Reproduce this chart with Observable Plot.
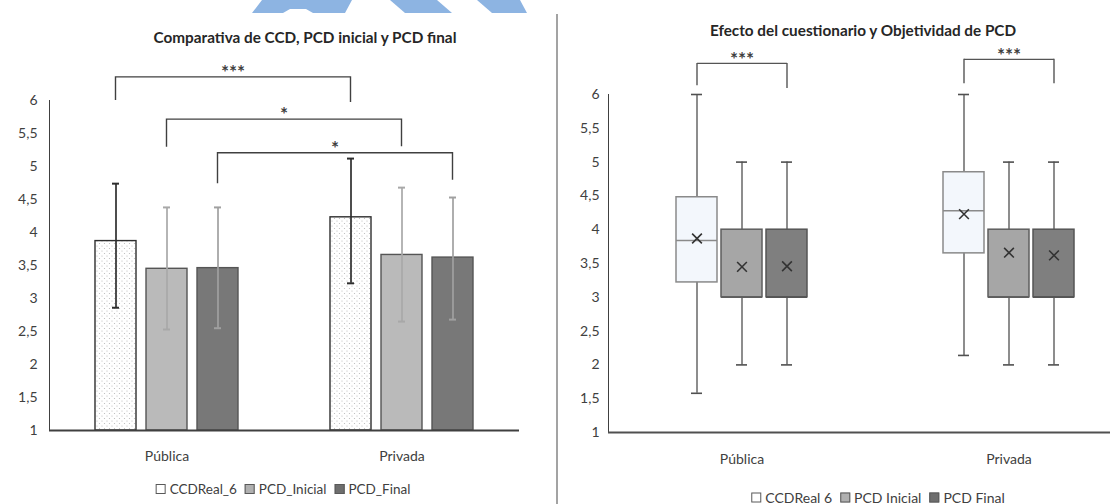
<!DOCTYPE html>
<html>
<head>
<meta charset="utf-8">
<script src="https://cdn.jsdelivr.net/npm/d3@7"></script>
<script src="https://cdn.jsdelivr.net/npm/@observablehq/plot@0.6"></script>
<style>
  html, body { margin: 0; padding: 0; background: #fff; }
  body { width: 1110px; height: 504px; overflow: hidden; position: relative; font-family: Lato, "Open Sans", sans-serif; }
  .abs { position: absolute; }
  .title { font-weight: bold; font-size: 15.3px; color: #262626; white-space: nowrap; transform: translate(-50%, -50%); }
  .legend { font-size: 13.5px; color: #404040; white-space: nowrap; transform: translate(-50%, -50%); display: flex; align-items: center; }
  .legend .item { display: flex; align-items: center; margin: 0 4px; }
  .legend .sw { width: 10px; height: 10px; border: 1px solid #595959; margin-right: 4px; box-sizing: border-box; }
  svg.plot { max-width: none !important; }
</style>
</head>
<body>
<svg width="0" height="0" style="position:absolute">
  <defs>
    <pattern id="dots" width="5" height="5" patternUnits="userSpaceOnUse">
      <rect width="5" height="5" fill="#ffffff"></rect>
      <circle cx="1" cy="1" r="0.6" fill="#b8b8b8"></circle>
      <circle cx="3.5" cy="3.5" r="0.6" fill="#b8b8b8"></circle>
    </pattern>
  </defs>
</svg>
<!-- decorative watermark strip at the top -->
<svg class="abs" style="left:0;top:0" width="1110" height="14">
  <g fill="#8db4e2">
    <polygon points="262,0 352,0 345,13 313,13 306,9 290,9 283,13 252,13"></polygon>
    <polygon points="390,0 437,0 452,13 405,13"></polygon>
    <polygon points="477,0 520,0 527,13 492,13"></polygon>
  </g>
</svg>
<div class="abs" style="left:556px;top:14px;width:1.5px;height:490px;background:#a3a3a3"></div>

<div id="leftTitle" class="abs title" style="left:305px;top:37px"></div>
<div id="leftPlot" class="abs" style="left:0;top:0"></div>
<div id="leftLegend" class="abs legend" style="left:283px;top:489px"></div>

<div id="rightTitle" class="abs title" style="left:863px;top:30px"></div>
<div id="rightPlot" class="abs" style="left:557px;top:0;width:553px;height:504px;overflow:hidden"></div>
<div id="rightLegend" class="abs legend" style="left:878px;top:497px;font-size:14px"></div>

<script>
// ---------------- data ----------------
const groups = ["Pública", "Privada"];
const series = ["CCDReal_6", "PCD_Inicial", "PCD_Final"];
const yTicks = [1, 1.5, 2, 2.5, 3, 3.5, 4, 4.5, 5, 5.5, 6];

const leftTitle = "Comparativa de CCD, PCD inicial y PCD final";
const rightTitle = "Efecto del cuestionario y Objetividad de PCD";

// Left chart: means and error-bar ends (series order)
const meanPublica = [3.87, 3.45, 3.46];
const meanPrivada = [4.23, 3.66, 3.62];
const errLowPublica = [2.86, 2.53, 2.55];
const errHighPublica = [4.74, 4.38, 4.38];
const errLowPrivada = [3.23, 2.65, 2.68];
const errHighPrivada = [5.12, 4.68, 4.53];

// Left chart significance brackets (Pública vs Privada, same series)
const barBrackets = [
  {series: "CCDReal_6", top: 6.35, legFrom: 6.0, legTo: 5.97, label: "***"},
  {series: "PCD_Inicial", top: 5.71, legFrom: 5.29, legTo: 5.30, label: "*"},
  {series: "PCD_Final", top: 5.20, legFrom: 4.74, legTo: 4.79, label: "*"}
];

// Right chart: box plot statistics (series order)
const minPublica = [1.58, 2, 2];
const q1Publica = [3.22, 3, 3];
const medianPublica = [3.84, 3, 3];
const q3Publica = [4.48, 4, 4];
const maxPublica = [6, 5, 5];
const avgPublica = [3.87, 3.45, 3.46];

const minPrivada = [2.14, 2, 2];
const q1Privada = [3.65, 3, 3];
const medianPrivada = [4.28, 3, 3];
const q3Privada = [4.85, 4, 4];
const maxPrivada = [6, 5, 5];
const avgPrivada = [4.23, 3.66, 3.62];

// Right chart brackets (CCDReal_6 vs PCD_Final within each group)
const boxBrackets = [
  {group: "Pública", from: "CCDReal_6", mid: "PCD_Inicial", to: "PCD_Final", top: 6.46, legFrom: 6.13, legTo: 6.09, label: "***"},
  {group: "Privada", from: "CCDReal_6", mid: "PCD_Inicial", to: "PCD_Final", top: 6.52, legFrom: 6.16, legTo: 6.16, label: "***"}
];

// ---------------- styles ----------------
const ink = "#404040";
const barFills = ["url(#dots)", "#bababa", "#787878"];
const errColors = ["#2e2e2e", "#a8a8a8", "#a0a0a0"];
const boxFills = ["#f3f7fc", "#a6a6a6", "#7f7f7f"];
const boxStrokes = ["#8a8a8a", "#5e5e5e", "#555555"];
const legendFills = ["#ffffff", "#b0b0b0", "#6e6e6e"];
const fmt = d => String(d).replace(".", ",");

// ---------------- tables ----------------
const barRows = [];
groups.forEach((g, gi) => series.forEach((s, si) => barRows.push({
  group: g, series: s, si,
  mean: gi === 0 ? meanPublica[si] : meanPrivada[si],
  low: gi === 0 ? errLowPublica[si] : errLowPrivada[si],
  high: gi === 0 ? errHighPublica[si] : errHighPrivada[si]
})));

const boxRows = [];
groups.forEach((g, gi) => series.forEach((s, si) => boxRows.push({
  group: g, series: s, si,
  min: (gi === 0 ? minPublica : minPrivada)[si],
  q1: (gi === 0 ? q1Publica : q1Privada)[si],
  median: (gi === 0 ? medianPublica : medianPrivada)[si],
  q3: (gi === 0 ? q3Publica : q3Privada)[si],
  max: (gi === 0 ? maxPublica : maxPrivada)[si],
  avg: (gi === 0 ? avgPublica : avgPrivada)[si]
})));

// Cross-facet brackets: drawn once, positioned with the plot's own fx / x / y scales
function crossBrackets(data) {
  let calls = 0;
  return (index, scales) => {
    if (calls++ > 0) return null;
    const {fx, x, y} = scales;
    const half = x.bandwidth ? x.bandwidth() / 2 : 0;
    const origin = fx(groups[0]);
    const px = (g, s) => fx(g) - origin + x(s) + half;
    const g = d3.create("svg:g");
    for (const b of data) {
      const x1 = px(groups[0], b.series), x2 = px(groups[1], b.series);
      g.append("path")
        .attr("fill", "none").attr("stroke", ink).attr("stroke-width", 1.4)
        .attr("d", `M${x1},${y(b.legFrom)}V${y(b.top)}H${x2}V${y(b.legTo)}`);
      g.append("text")
        .attr("x", (x1 + x2) / 2).attr("y", y(b.top) + 2)
        .attr("text-anchor", "middle").attr("fill", ink)
        .attr("font-size", 19).attr("font-weight", "bold").text(b.label);
    }
    return g.node();
  };
}

// ---------------- left chart ----------------
const left = Plot.plot({
  width: 556, height: 472,
  marginLeft: 48, marginRight: 37, marginTop: 100, marginBottom: 42,
  style: {fontFamily: "Lato, 'Open Sans', sans-serif", fontSize: "14px", color: ink, background: "transparent", overflow: "visible"},
  fx: {domain: groups, padding: 0, label: null, axis: "bottom", tickSize: 0, tickPadding: 21},
  x: {domain: series, paddingInner: 0.19, paddingOuter: 0.86, axis: null},
  y: {domain: [1, 6], ticks: yTicks, tickFormat: fmt, tickSize: 0, tickPadding: 12, label: null, line: true},
  color: {domain: series, range: barFills},
  marks: [
    Plot.barY(barRows, {fx: "group", x: "series", y1: yTicks[0], y2: "mean", fill: "series",
      stroke: d => d.si === 0 ? "#2e2e2e" : "#555555", strokeWidth: 1.4}),
    Plot.ruleX(barRows, {fx: "group", x: "series", y1: "low", y2: "high", stroke: d => errColors[d.si], strokeWidth: 1.7}),
    Plot.tickY(barRows, {fx: "group", x: "series", y: "low", stroke: d => errColors[d.si], strokeWidth: 2, insetLeft: 17, insetRight: 17}),
    Plot.tickY(barRows, {fx: "group", x: "series", y: "high", stroke: d => errColors[d.si], strokeWidth: 2, insetLeft: 17, insetRight: 17}),
    Plot.ruleY([yTicks[0]], {stroke: ink, strokeWidth: 2}),
    crossBrackets(barBrackets)
  ]
});
left.style.maxWidth = "none";
document.getElementById("leftPlot").append(left);

// ---------------- right chart ----------------
const right = Plot.plot({
  width: 600, height: 474,
  marginLeft: 51, marginRight: 15, marginTop: 94, marginBottom: 42,
  style: {fontFamily: "Lato, 'Open Sans', sans-serif", fontSize: "14px", color: ink, background: "transparent", overflow: "visible"},
  fx: {domain: groups, padding: 0, label: null, axis: "bottom", tickSize: 0, tickPadding: 22},
  x: {domain: series, paddingInner: 0.1, paddingOuter: 1.48, axis: null},
  y: {domain: [1, 6], ticks: yTicks, tickFormat: fmt, tickSize: 0, tickPadding: 9, label: null, line: true},
  marks: [
    Plot.ruleX(boxRows, {fx: "group", x: "series", y1: "min", y2: "max", stroke: "#505050", strokeWidth: 1.3}),
    Plot.tickY(boxRows, {fx: "group", x: "series", y: "min", stroke: "#505050", strokeWidth: 1.6, insetLeft: 15, insetRight: 15}),
    Plot.tickY(boxRows, {fx: "group", x: "series", y: "max", stroke: "#505050", strokeWidth: 1.6, insetLeft: 15, insetRight: 15}),
    Plot.barY(boxRows, {fx: "group", x: "series", y1: "q1", y2: "q3", fill: d => boxFills[d.si], stroke: d => boxStrokes[d.si], strokeWidth: 1.5}),
    Plot.tickY(boxRows, {fx: "group", x: "series", y: "median", stroke: d => boxStrokes[d.si], strokeWidth: 1.5}),
    Plot.dot(boxRows, {fx: "group", x: "series", y: "avg", symbol: "times", r: 4.5, stroke: "#333333", strokeWidth: 1.6}),
    Plot.ruleY([yTicks[0]], {stroke: "#505050", strokeWidth: 2}),
    Plot.ruleX(boxBrackets, {fx: "group", x: "from", y1: "legFrom", y2: "top", stroke: "#555555", strokeWidth: 1.4}),
    Plot.ruleX(boxBrackets, {fx: "group", x: "to", y1: "legTo", y2: "top", stroke: "#555555", strokeWidth: 1.4}),
    Plot.link(boxBrackets, {fx: "group", x1: "from", x2: "to", y1: "top", y2: "top", stroke: "#555555", strokeWidth: 1.4}),
    Plot.text(boxBrackets, {fx: "group", x: "mid", y: "top", text: "label", dy: -3, fontSize: 19, fontWeight: "bold", fill: ink})
  ]
});
right.style.maxWidth = "none";
document.getElementById("rightPlot").append(right);

// ---------------- titles & legends ----------------
document.getElementById("leftTitle").textContent = leftTitle;
document.getElementById("rightTitle").textContent = rightTitle;

function legend(el, labels) {
  labels.forEach((lab, i) => {
    const item = document.createElement("span");
    item.className = "item";
    const sw = document.createElement("span");
    sw.className = "sw";
    sw.style.background = legendFills[i];
    item.append(sw, document.createTextNode(lab));
    el.append(item);
  });
}
legend(document.getElementById("leftLegend"), series);
legend(document.getElementById("rightLegend"), series.map(s => s.replace("_", " ")));
</script>
</body>
</html>
